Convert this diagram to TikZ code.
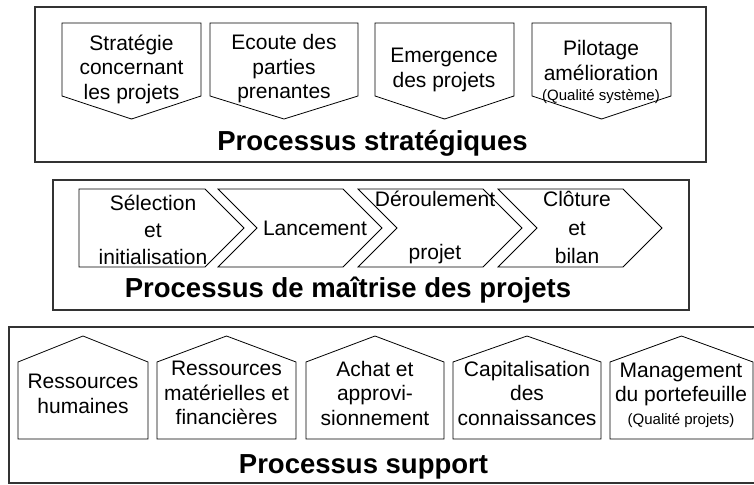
\documentclass[tikz,border=0pt]{standalone}
\usepackage{fontspec}
\setmainfont{Liberation Sans}
\begin{document}
\begin{tikzpicture}[x=1pt,y=-1pt,
  frame/.style={draw=black!80, line width=1.3pt},
  shp/.style={draw=black, line width=0.8pt, line join=miter},
  lbl/.style={align=center, font=\fontsize{21}{24.5}\selectfont, inner sep=0pt},
  lblw/.style={align=center, font=\fontsize{21}{27}\selectfont, inner sep=0pt},
  lblx/.style={align=center, font=\fontsize{21}{28.5}\selectfont, inner sep=0pt},
  ttl/.style={anchor=base, font=\fontsize{27.5}{30}\selectfont\bfseries, inner sep=0pt}
]
\useasboundingbox (0,0) rectangle (754,484);
\clip (0,0) rectangle (754,484);

% ---------- frames
\draw[frame] (35,7) rectangle (706,162);
\draw[frame] (53,180) rectangle (689,310);
\draw[frame] (9,327) rectangle (760,483);

% ---------- strategic processes (down arrows)
\foreach \l/\r in {62/201, 210/358, 375/514, 532/671}
  \draw[shp] (\l,23) -- (\r,23) -- (\r,96) -- ({(\l+\r)/2},119) -- (\l,96) -- cycle;

\node[lbl] (s1) at (131.5,69) {Stratégie\\concernant\\les projets};
\node[lbl] (s2) at (284,69) {Ecoute des\\parties\\prenantes};
\node[lbl] (s3) at (444,70) {Emergence\\des projets};
\node[lbl] (s4) at (601,72) {Pilotage\\amélioration\\[-4pt]{\fontsize{15}{17}\selectfont (Qualité système)}};
\node[ttl] (t1) at (372.5,150) {Processus stratégiques};

% ---------- project control (chevrons)
\draw[shp] (79,189) -- (205,189) -- (244,228) -- (205,267) -- (79,267) -- cycle;
\foreach \L in {218,358,498}
  \draw[shp] (\L,189) -- (\L+125,189) -- (\L+164,228) -- (\L+125,267) -- (\L,267) -- (\L+39,228) -- cycle;

\node[lblw] (c1) at (153,230) {Sélection\\et\\initialisation};
\node[lblw, anchor=base] (c2) at (315,235) {Lancement};
\node[lblw] (c3) at (435,227.5) {Déroulement\\[26pt]projet};
\node[lblx] (c4) at (577,227.5) {Clôture\\et\\bilan};
\node[ttl] (t2) at (348,297) {Processus de maîtrise des projets};

% ---------- support processes (houses)
\foreach \l/\r in {18/148, 157/296, 306/444, 453/601, 610/753}
  \draw[shp] (\l,439) -- (\l,362) -- ({(\l+\r)/2},336) -- (\r,362) -- (\r,439) -- cycle;

\node[lbl] (h1) at (83,394) {Ressources\\humaines};
\node[lbl] (h2) at (226.5,393) {Ressources\\matérielles et\\financières};
\node[lbl] (h3) at (375,393) {Achat et\\approvi-\\sionnement};
\node[lbl] (h4) at (527,393) {Capitalisation\\des\\connaissances};
\node[lbl] (h5) at (681,395) {Management\\du portefeuille\\[-2pt]{\fontsize{15}{17}\selectfont (Qualité projets)}};
\node[ttl] (t3) at (363.5,473) {Processus support};
\end{tikzpicture}
\end{document}
